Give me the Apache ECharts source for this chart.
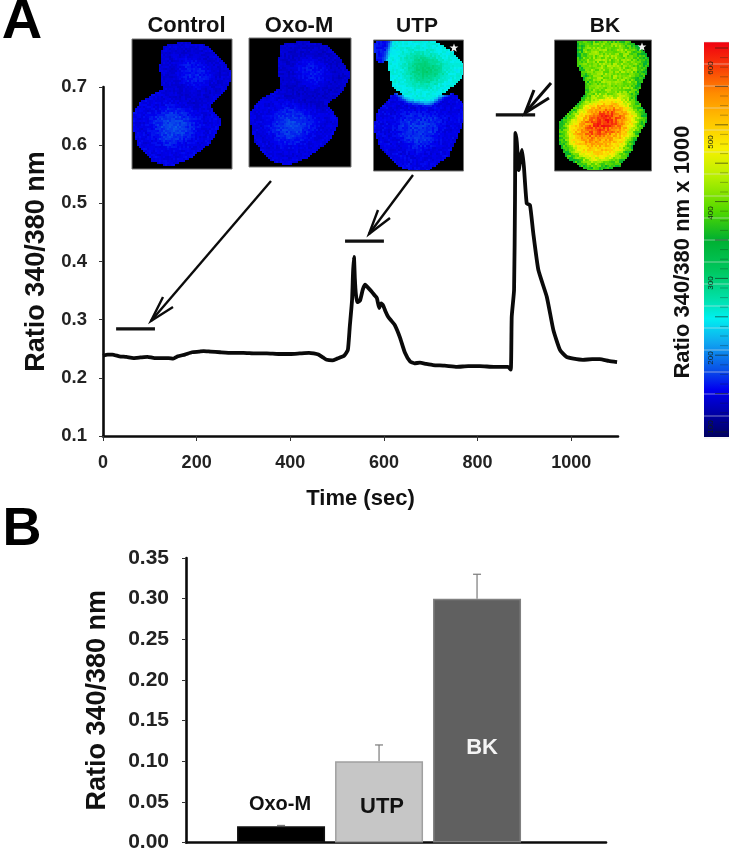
<!DOCTYPE html>
<html><head><meta charset="utf-8">
<script src="https://cdn.jsdelivr.net/npm/echarts@6/dist/echarts.min.js"></script>
<style>html,body{margin:0;padding:0;background:#fff}#c{width:731px;height:853px;filter:blur(0.55px)}</style>
</head><body><div id="c"></div>
<script>
// Panel A trace
const traceTime=[0,10,20,35,50,65,80,95,110,125,140,150,160,175,190,205,215,230,250,275,300,325,350,375,400,420,440,450,460,470,478,490,500,515,523,527,532,534,536,538,540,543,549,555,560,566,574,580,585,590,594,598,603,609,616,623,634,645,656,665,677,690,705,730,756,780,805,835,865,871,873,878,880,881,884,888,892,895,899,905,912,919,930,948,962,976,990,1005,1025,1045,1061,1080,1098];
const traceRatio=[.238,.24,.24,.237,.236,.234,.235,.236,.234,.234,.234,.233,.237,.24,.244,.245,.246,.245,.244,.243,.243,.242,.242,.241,.241,.242,.243,.242,.24,.235,.231,.23,.233,.238,.248,.287,.334,.38,.408,.37,.345,.33,.333,.352,.36,.355,.348,.342,.337,.32,.328,.325,.315,.305,.298,.291,.27,.243,.228,.225,.226,.224,.222,.221,.219,.22,.22,.219,.219,.214,.305,.351,.506,.621,.604,.557,.58,.592,.563,.5,.497,.449,.385,.339,.282,.248,.236,.233,.231,.232,.232,.229,.227];
const stimulusControl=[[28,.284],[111,.284]];
const stimulusUTP=[[517,.435],[600,.435]];
const stimulusBK=[[839,.652],[923,.652]];
const xTicksA=[0,200,400,600,800,1000];
// Panel B bars
const barNames=['Oxo-M','UTP','BK'];
const barPositions=[1,2,3];
const barValues=[.02,.10,.30];
const barErrors=[.001,.02,.03];
const barColors=['#000000','#c6c6c6','#606060'];
const barBorders=['#111111','#a0a0a0','#808080'];
// Image panel titles and colour-scale labels
const imageTitles=['Control','Oxo-M','UTP','BK'];
const scaleLabels=['600','500','400','300','200','100'];

const FF='"Liberation Sans",Arial,sans-serif';
const z=(a)=>a.map(p=>[100+p[0]/2.75,p[1]/3]);
const rect=(x,y,w,h,fill,stroke)=>({type:'rect',shape:{x,y,width:w,height:h},style:{fill,stroke:stroke||null,lineWidth:stroke?1:0},silent:true});
const txt=(x,y,t,size,opt)=>Object.assign({type:'text',x,y,style:Object.assign({text:t,font:'bold '+size+'px '+FF,fill:'#111',align:'center',verticalAlign:'middle'},opt&&opt.style||{})},opt&&opt.el||{});
const line=(pts,w)=>({type:'polyline',shape:{points:pts},style:{stroke:'#0b0b0b',lineWidth:w||2,fill:null,lineJoin:'miter'},silent:true});
const star=(x,y)=>({type:'polygon',shape:{points:[0,1,2,3,4,5,6,7,8,9].map(i=>{const r=i%2?1.9:4.6,a=-Math.PI/2+i*Math.PI/5;return[x+r*Math.cos(a),y+r*Math.sin(a)]})},style:{fill:'#eeeeee'},silent:true});

// Shared pseudo-colour ramp (top to bottom of the colour scale)
const rampStops=[[0,'#f00010'],[.06,'#f83808'],[.13,'#ff8c00'],[.2,'#ffc400'],[.27,'#f8f000'],[.34,'#b8f000'],[.43,'#50d800'],[.5,'#00b030'],[.58,'#00c860'],[.65,'#00e0a8'],[.7,'#00f0f0'],[.76,'#10a8f0'],[.83,'#0850e8'],[.88,'#0000f0'],[.94,'#0000a8'],[1,'#000060']];
const hex=h=>[parseInt(h.slice(1,3),16),parseInt(h.slice(3,5),16),parseInt(h.slice(5,7),16)];
function ramp(v){const t=1-Math.max(0,Math.min(1,v));for(let i=1;i<rampStops.length;i++){if(t<=rampStops[i][0]){const a=rampStops[i-1],b=rampStops[i],f=(t-a[0])/(b[0]-a[0]),A=hex(a[1]),B=hex(b[1]);return A.map((c,k)=>c+(B[k]-c)*f);}}return hex('#000060');}
const texture=(x,y)=>{const s=Math.sin(x*12.9898+y*78.233)*43758.5453;return s-Math.floor(s);};

// Paints one false-colour micrograph texture. layers: [points, level, softness]
function micrograph(ox,oy,w,h,masks,layers,amp){
  const mk=()=>{const c=document.createElement('canvas');c.width=w;c.height=h;return c;};
  const path=(ctx,p)=>{ctx.beginPath();p.forEach((q,i)=>{i?ctx.lineTo(q[0]-ox,q[1]-oy):ctx.moveTo(q[0]-ox,q[1]-oy);});ctx.closePath();};
  const mc=mk(),mx=mc.getContext('2d',{willReadFrequently:true});
  mx.filter='blur(1.6px)';mx.fillStyle='#fff';masks.forEach(p=>{path(mx,p);mx.fill();});
  const fc=mk(),fx=fc.getContext('2d',{willReadFrequently:true});
  layers.forEach(l=>{const g=Math.round(l[1]*255),col='rgb('+g+','+g+','+g+')';fx.filter='blur('+l[2]+'px)';fx.fillStyle=col;fx.strokeStyle=col;fx.lineWidth=l[2]>4?0:12;path(fx,l[0]);fx.fill();if(l[2]<=4)fx.stroke();});
  const M=mx.getImageData(0,0,w,h).data,F=fx.getImageData(0,0,w,h).data;
  const out=mk(),ox2=out.getContext('2d'),img=ox2.createImageData(w,h),D=img.data,B=2;
  for(let y=0;y<h;y+=B)for(let x=0;x<w;x+=B){
    const i=(y*w+x)*4,n=texture(x+ox,y+oy)-.5,inside=M[i]>128+n*170;
    const c=inside?ramp(F[i]/255+n*amp):[0,0,0];
    for(let a=0;a<B;a++)for(let b=0;b<B;b++){if(y+a<h&&x+b<w){const j=((y+a)*w+x+b)*4;D[j]=c[0];D[j+1]=c[1];D[j+2]=c[2];D[j+3]=255;}}
  }
  ox2.putImageData(img,0,0);
  const soft=mk(),sx=soft.getContext('2d');sx.filter='blur(0.6px)';sx.drawImage(out,0,0);
  return {type:'image',x:ox,y:oy,style:{image:soft,x:0,y:0,width:w,height:h},silent:true};
}
const shrink=(p,k)=>{const c=p.reduce((a,q)=>[a[0]+q[0]/p.length,a[1]+q[1]/p.length],[0,0]);return p.map(q=>[c[0]+(q[0]-c[0])*k,c[1]+(q[1]-c[1])*k]);};
const shift=(a,dx,dy)=>a.map(p=>[p[0]+dx,p[1]+dy]);

const upperCell=z([[180,145],[230,135],[290,145],[330,190],[352,225],[335,265],[290,310],[230,295],[180,265],[172,200]]);
const lowerCell=z([[175,275],[230,285],[290,320],[322,365],[295,420],[240,465],[190,487],[150,475],[110,425],[93,350],[120,310]]);
const utpGreen=z([[815,122],[900,125],[960,160],[992,200],[985,225],[950,260],[900,294],[850,284],[810,250],[800,190]]);
const utpLower=z([[810,290],[900,298],[970,290],[998,330],[975,400],[950,460],[880,512],[830,490],[780,440],[760,380],[770,340]]);
const utpSpeck=z([[760,135],[790,125],[795,165],[770,178]]);
const bkBody=z([[1320,120],[1430,120],[1480,150],[1500,180],[1490,220],[1470,270],[1465,300],[1497,350],[1470,400],[1450,450],[1420,490],[1350,505],[1290,465],[1270,420],[1270,370],[1300,340],[1340,290],[1345,250],[1320,190]]);
const bkTop=z([[1345,140],[1430,140],[1470,185],[1450,250],[1445,290],[1400,290],[1360,280],[1365,240],[1345,190]]);
const bkLow=z([[1340,300],[1440,295],[1480,350],[1450,420],[1420,475],[1350,490],[1300,455],[1282,410],[1285,375]]);
const bkOrange=z([[1350,320],[1420,310],[1465,350],[1430,420],[1380,450],[1320,430],[1295,395]]);
const bkRed=z([[1370,330],[1420,330],[1430,370],[1385,395],[1330,415],[1345,370]]);

const blueCells=(dx,dy,a,b)=>{const U=shift(upperCell,dx,dy),L=shift(lowerCell,dx,dy);return {masks:[U,L],layers:[[L,a,2],[U,a-.015,2],[shrink(L,.6),a+.03,5],[shrink(U,.5),a+.02,5],[shrink(L,.3),b,5]]};};
const c1=blueCells(0,0,.115,.17),c2=blueCells(118,-1,.11,.16);

const graphics=[
  txt(22,23,'A',56,{style:{fill:'#000'}}), txt(22,530,'B',54,{style:{fill:'#000'}}),
  rect(132,39,100,130,'#000','#777'), rect(249,38,102,129,'#000','#777'), rect(373.5,40,90,131,'#000','#777'), rect(554.5,40,97,131,'#000','#777'),
  txt(186.5,26,imageTitles[0],22), txt(299,26,imageTitles[1],22), txt(417,26,imageTitles[2],21), txt(605,26,imageTitles[3],21),
  micrograph(133,40,98,128,c1.masks,c1.layers,.03),
  micrograph(250,39,100,127,c2.masks,c2.layers,.03),
  micrograph(374,41,89,129,[utpGreen,utpLower,utpSpeck],[[utpSpeck,.13,2],[utpLower,.115,2],[shrink(utpLower,.5),.15,5],[utpGreen,.31,2],[shrink(utpGreen,.7),.34,5],[shrink(utpGreen,.42),.4,5]],.035),
  star(454,48),
  micrograph(555,41,96,129,[bkBody],[[bkBody,.52,2],[bkTop,.61,4],[bkLow,.74,5],[bkOrange,.84,6],[bkRed,.96,6]],.1),
  star(642,47),
  // arrows
  line([[271,181],[151,321]],2.4), line([[163,297],[151,321],[173,307]],2.4),
  line([[413,175],[369,234]],2.4), line([[378,210],[369,234],[390,218]],2.4),
  line([[551,83],[525,113]],3), line([[534,90],[525,113],[549,98]],3),
  // colour scale
  {type:'rect',shape:{x:704,y:42,width:25,height:395},silent:true,style:{fill:{type:'linear',x:0,y:0,x2:0,y2:1,colorStops:rampStops.map(s=>({offset:s[0],color:s[1]}))}}},
  txt(683,252,'Ratio 340/380 nm x 1000',22,{el:{rotation:Math.PI/2}})
];
for(let i=0;i<=18;i++){const y=42+i*22;graphics.push({type:'line',shape:{x1:704,y1:y,x2:729,y2:y},style:{stroke:'rgba(225,225,225,.55)',lineWidth:1},silent:true});}
for(let i=0;i<=40;i++){const y=48+i*9.6,maj=i%4===0;graphics.push({type:'line',shape:{x1:maj?715:720,y1:y,x2:728,y2:y},style:{stroke:'rgba(20,30,20,'+(maj?.6:.3)+')',lineWidth:1},silent:true});}
[68,142,213,283,358,427].forEach((y,i)=>graphics.push(txt(710.5,y,scaleLabels[i],8,{style:{font:'8px '+FF,fill:'#142014'},el:{rotation:Math.PI/2}})));

const axisLine={show:true,onZero:false,lineStyle:{color:'#0b0b0b',width:2.6}};
const tick=(len)=>({show:true,length:len,lineStyle:{color:'#333',width:1}});
const stimulus=(d)=>({type:'line',xAxisIndex:0,yAxisIndex:0,data:d,showSymbol:false,silent:true,lineStyle:{color:'#111',width:3.2}});
const chart=echarts.init(document.getElementById('c'),null,{renderer:'canvas'});
chart.setOption({
  animation:false,backgroundColor:'#ffffff',
  grid:[
    {left:103,top:87,width:515,height:349,containLabel:false},
    {left:186,top:558,width:420,height:285,containLabel:false}
  ],
  xAxis:[
    {gridIndex:0,type:'value',min:0,max:1100,interval:200,splitLine:{show:false},axisLine,axisTick:tick(5),
     name:'Time (sec)',nameLocation:'middle',nameGap:52,nameTextStyle:{fontFamily:FF,fontWeight:'bold',fontSize:22,color:'#111'},
     axisLabel:{showMaxLabel:false,color:'#222',fontFamily:FF,fontWeight:'bold',fontSize:18,margin:18,formatter:v=>xTicksA.includes(v)?String(v):''}},
    {gridIndex:1,type:'value',min:.03,max:4.316,splitLine:{show:false},axisLine,axisTick:{show:false},axisLabel:{show:false}}
  ],
  yAxis:[
    {gridIndex:0,type:'value',min:.1,max:.7,interval:.1,splitLine:{show:false},axisLine,axisTick:tick(4),
     name:'Ratio 340/380 nm',nameLocation:'middle',nameGap:53,nameTextStyle:{fontFamily:FF,fontWeight:'bold',fontSize:27,color:'#111'},
     axisLabel:{color:'#222',fontFamily:FF,fontWeight:'bold',fontSize:18.5,margin:16,formatter:v=>v.toFixed(1)}},
    {gridIndex:1,type:'value',min:0,max:.35,interval:.05,splitLine:{show:false},axisLine,axisTick:tick(4),
     name:'Ratio 340/380 nm',nameLocation:'middle',nameGap:75,nameTextStyle:{fontFamily:FF,fontWeight:'bold',fontSize:27,color:'#111'},
     axisLabel:{color:'#222',fontFamily:FF,fontWeight:'bold',fontSize:21,margin:17,formatter:v=>v.toFixed(2)}}
  ],
  series:[
    {type:'line',xAxisIndex:0,yAxisIndex:0,data:traceTime.map((t,i)=>[t,traceRatio[i]]),showSymbol:false,silent:true,smooth:.15,lineStyle:{color:'#0a0a0a',width:3.8,join:'round'}},
    stimulus(stimulusControl),stimulus(stimulusUTP),stimulus(stimulusBK),
    {type:'bar',xAxisIndex:1,yAxisIndex:1,barWidth:88,silent:true,
     data:barPositions.map((x,i)=>({value:[x,barValues[i]],
       itemStyle:{color:barColors[i],borderColor:barBorders[i],borderWidth:1.5},
       label:{show:true,formatter:barNames[i],fontFamily:FF,fontWeight:'bold',
         fontSize:i===0?20:22,color:i===2?'#f4f4f4':'#111',
         position:i===0?'top':'inside',distance:i===0?12:5,offset:i===0?[-1,0]:(i===1?[3,5]:[5,27])}}))},
    {type:'custom',xAxisIndex:1,yAxisIndex:1,silent:true,
     data:barPositions.map((x,i)=>[x,barValues[i],barValues[i]+barErrors[i]]),
     encode:{x:0,y:[1,2]},
     renderItem:(p,api)=>{
       const a=api.coord([api.value(0),api.value(1)]),b=api.coord([api.value(0),api.value(2)]);
       const st={stroke:'#7a7a7a',lineWidth:1.2};
       return {type:'group',children:[
         {type:'line',shape:{x1:a[0],y1:a[1],x2:b[0],y2:b[1]},style:st},
         {type:'line',shape:{x1:b[0]-4,y1:b[1],x2:b[0]+4,y2:b[1]},style:st}]};
     }}
  ],
  graphic:{elements:graphics}
});
</script></body></html>
